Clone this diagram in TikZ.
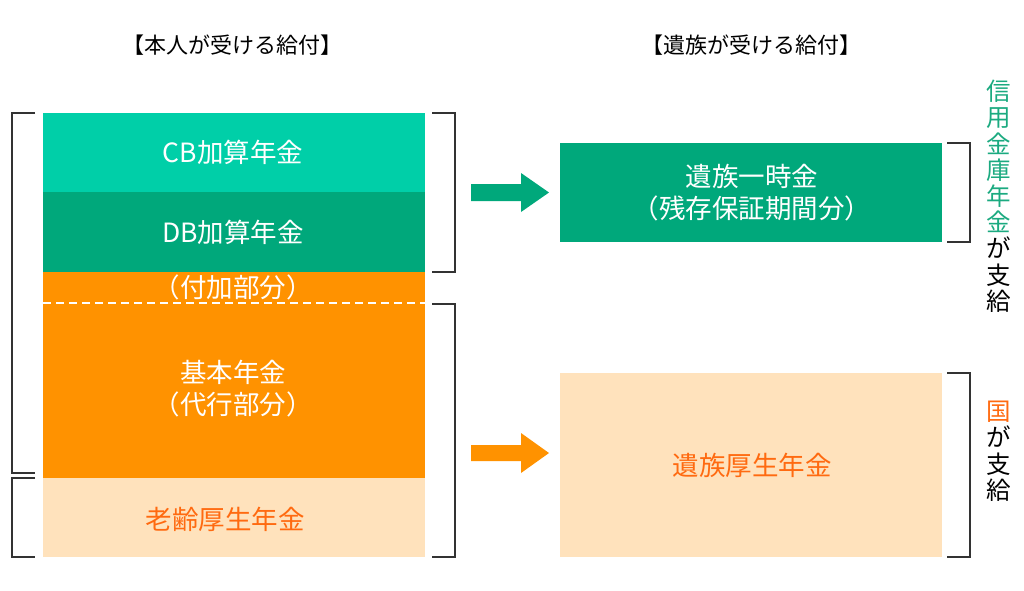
\documentclass[tikz,border=0pt]{standalone}
\usepackage{fontspec}
\newfontfamily\jp{Noto Sans CJK JP}
\definecolor{cbc}{HTML}{00CFA8}
\definecolor{dbc}{HTML}{00A87B}
\definecolor{orc}{HTML}{FF9200}
\definecolor{ltc}{HTML}{FFE2BC}
\definecolor{otx}{HTML}{FF6A10}
\definecolor{gtx}{HTML}{1BAA80}
\definecolor{brc}{HTML}{333333}
\begin{document}
\begin{tikzpicture}[x=1pt,y=-1pt,
  box/.style={rectangle,inner sep=0pt,outer sep=0pt,anchor=north west},
  lbl/.style={font=\jp\fontsize{26.5}{32}\selectfont,align=center,inner sep=0pt},
  ttl/.style={font=\jp\fontsize{22}{26}\selectfont,inner sep=0pt},
  vtx/.style={font=\jp\fontsize{24.5}{26.2}\selectfont,align=center,inner sep=0pt,anchor=north},
  brk/.style={draw=brc,line width=1.5pt}]
\useasboundingbox (0,0) rectangle (1024,590);
% titles
\node[ttl] (t1) at (232,45) {【本人が受ける給付】};
\node[ttl] (t2) at (751,45) {【遺族が受ける給付】};
% left column
\node[box,fill=cbc,minimum width=382pt,minimum height=79pt] (cb) at (43,113) {};
\node[box,fill=dbc,minimum width=382pt,minimum height=80pt] (db) at (43,192) {};
\node[box,fill=orc,minimum width=382pt,minimum height=206pt] (or) at (43,272) {};
\node[box,fill=ltc,minimum width=382pt,minimum height=79pt] (lt) at (43,478) {};
\draw[white,line width=1.3pt,dash pattern=on 8pt off 5pt] (or.west |- 0,303) coordinate (d1) -- (or.east |- 0,303) coordinate (d2);
\node[lbl,text=white] (cbl) at (233,152) {CB加算年金};
\node[lbl,text=white] (dbl) at (233,232) {DB加算年金};
\node[lbl,text=white] (fk) at (233,287) {（付加部分）};
\node[lbl,text=white] (kh) at (233,389) {基本年金\\（代行部分）};
\node[lbl,text=otx] (rl) at (225,519) {老齢厚生年金};
% right column
\node[box,fill=dbc,minimum width=382pt,minimum height=99pt] (ic) at (560,143) {};
\node[box,fill=ltc,minimum width=382pt,minimum height=184pt] (ik) at (560,373) {};
\node[lbl,text=white] (icl) at (752,193) {遺族一時金\\（残存保証期間分）};
\node[lbl,text=otx] (ikl) at (752,465) {遺族厚生年金};
% arrows
\fill[dbc] (471,184) -- (521,184) -- (521,173) -- (549,192.5) -- (521,212) -- (521,201) -- (471,201) -- cycle;
\fill[orc] (471,445) -- (521,445) -- (521,433) -- (549,453) -- (521,473) -- (521,461) -- (471,461) -- cycle;
% brackets left
\draw[brk] (35,113) -- (12,113) -- (12,473) -- (35,473);
\draw[brk] (35,478) -- (12,478) -- (12,557) -- (35,557);
% brackets middle
\draw[brk] (432,113) -- (455,113) -- (455,272) -- (432,272);
\draw[brk] (432,304) -- (455,304) -- (455,557) -- (432,557);
% brackets right
\draw[brk] (947,143) -- (970,143) -- (970,242) -- (947,242);
\draw[brk] (947,373) -- (970,373) -- (970,557) -- (947,557);
% vertical texts
\node[vtx] (v1) at (999,80) {\textcolor{gtx}{信}\\\textcolor{gtx}{用}\\\textcolor{gtx}{金}\\\textcolor{gtx}{庫}\\\textcolor{gtx}{年}\\\textcolor{gtx}{金}\\が\\支\\給};
\node[vtx] (v2) at (999,401) {\textcolor{otx}{国}\\が\\支\\給};
\end{tikzpicture}
\end{document}
